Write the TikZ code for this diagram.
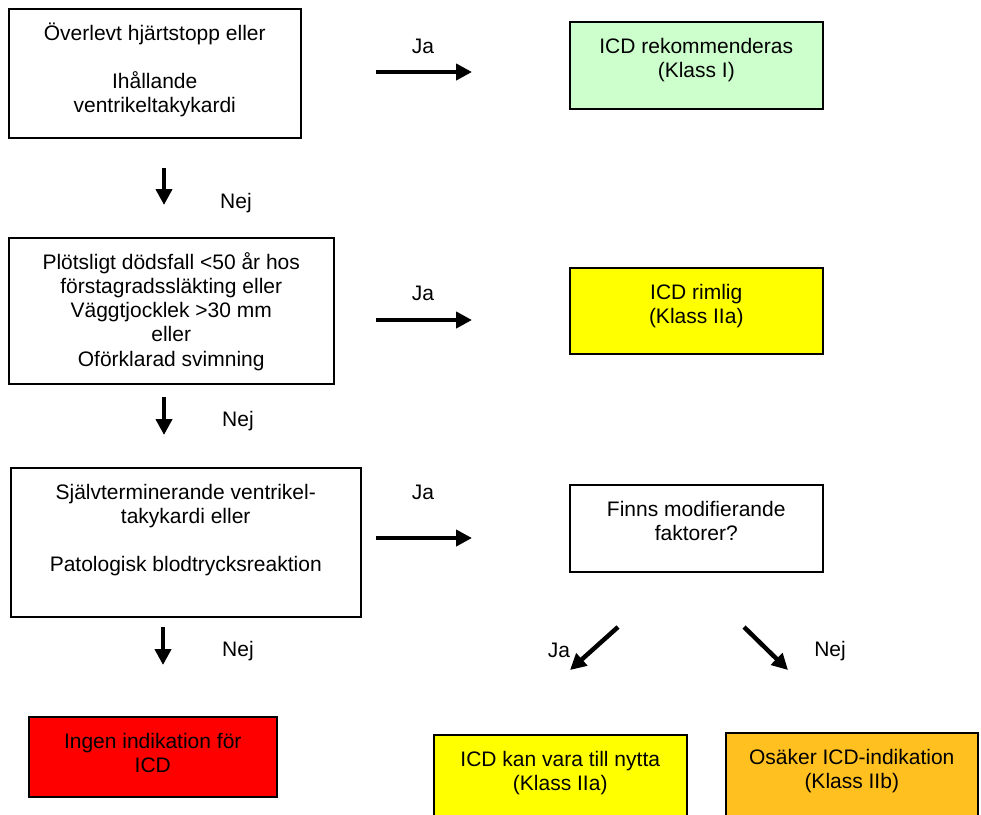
\documentclass[tikz,border=0pt]{standalone}
\usepackage{fontspec}
\setmainfont{Liberation Sans}
\usepackage{xcolor}
\usetikzlibrary{arrows.meta}
\definecolor{icd-green}{HTML}{CCFFCC}
\definecolor{icd-yellow}{HTML}{FFFF00}
\definecolor{icd-red}{HTML}{FF0000}
\definecolor{icd-orange}{HTML}{FFC020}
\newcommand{\flowfont}{\fontsize{21}{24.2}\selectfont}
\newcommand{\boxtext}[3]{\begin{minipage}[t][#2][t]{#1}\centering\flowfont\rule{0pt}{31.5pt}#3\end{minipage}}
\tikzset{
    flow-box/.style = {draw=black, line width=1.5pt, rectangle, inner sep=0pt, anchor=north west},
    flow-arrow/.style = {line width=4.5pt, -{Triangle[length=16pt, width=16pt]}},
    flow-label/.style = {font=\flowfont, inner sep=0pt},
}

\begin{document}
\begin{tikzpicture}[x=1pt, y=1pt]
\useasboundingbox (0,0) rectangle (981,-814);
\clip (0,0) rectangle (981,-814);
\node[flow-box] (survived) at (8,-8) {\boxtext{292pt}{129pt}{Överlevt hjärtstopp eller\\[24pt] Ihållande\\ ventrikeltakykardi}};
\node[flow-box, fill=icd-green] (class-one) at (569,-21) {\boxtext{253pt}{87pt}{ICD rekommenderas\\ (Klass I)}};
\node[flow-box] (family) at (8,-237) {\boxtext{325pt}{146pt}{Plötsligt dödsfall <50 år hos\\ förstagradssläkting eller\\ Väggtjocklek >30 mm\\ eller\\ Oförklarad svimning}};
\node[flow-box, fill=icd-yellow] (class-two-a) at (569,-267) {\boxtext{253pt}{86pt}{ICD rimlig\\ (Klass IIa)}};
\node[flow-box] (selfterm) at (10,-467) {\boxtext{350pt}{149pt}{Självterminerande ventrikel-\\ takykardi eller\\[24pt] Patologisk blodtrycksreaktion}};
\node[flow-box] (modifiers) at (569,-484) {\boxtext{253pt}{87pt}{Finns modifierande\\ faktorer?}};
\node[flow-box, fill=icd-red] (no-icd) at (28,-716) {\boxtext{248pt}{80pt}{Ingen indikation för\\ ICD}};
\node[flow-box, fill=icd-yellow] (useful) at (433,-734) {\boxtext{253pt}{90pt}{ICD kan vara till nytta\\ (Klass IIa)}};
\node[flow-box, fill=icd-orange] (uncertain) at (725,-732) {\boxtext{252pt}{92pt}{Osäker ICD-indikation\\ (Klass IIb)}};

\coordinate (ja-one-from) at (376,-72);
\coordinate (ja-one-to) at (472,-72);
\coordinate (ja-two-from) at (376,-320);
\coordinate (ja-two-to) at (472,-320);
\coordinate (ja-three-from) at (376,-538);
\coordinate (ja-three-to) at (472,-538);
\coordinate (nej-one-from) at (164,-168);
\coordinate (nej-one-to) at (164,-205);
\coordinate (nej-two-from) at (164,-397);
\coordinate (nej-two-to) at (164,-435);
\coordinate (nej-three-from) at (163,-627);
\coordinate (nej-three-to) at (163,-665);
\coordinate (mod-ja-from) at (618,-627);
\coordinate (mod-ja-to) at (570,-670);
\coordinate (mod-nej-from) at (744,-627);
\coordinate (mod-nej-to) at (788,-670);

\draw[flow-arrow] (ja-one-from) -- (ja-one-to);
\draw[flow-arrow] (ja-two-from) -- (ja-two-to);
\draw[flow-arrow] (ja-three-from) -- (ja-three-to);
\draw[flow-arrow] (nej-one-from) -- (nej-one-to);
\draw[flow-arrow] (nej-two-from) -- (nej-two-to);
\draw[flow-arrow] (nej-three-from) -- (nej-three-to);
\draw[flow-arrow] (mod-ja-from) -- (mod-ja-to);
\draw[flow-arrow] (mod-nej-from) -- (mod-nej-to);

\node[flow-label] (ja-one) at (423,-46) {Ja};
\node[flow-label] (ja-two) at (423,-293) {Ja};
\node[flow-label] (ja-three) at (423,-492) {Ja};
\node[flow-label] (nej-one) at (236,-203) {Nej};
\node[flow-label] (nej-two) at (238,-421) {Nej};
\node[flow-label] (nej-three) at (238,-651) {Nej};
\node[flow-label] (mod-ja) at (559,-650) {Ja};
\node[flow-label] (mod-nej) at (830,-651) {Nej};
\end{tikzpicture}
\end{document}
